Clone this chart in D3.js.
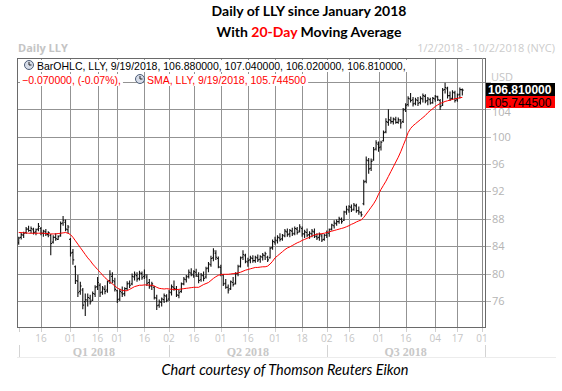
<!DOCTYPE html>
<html>
<head>
<meta charset="utf-8">
<script src="https://cdn.jsdelivr.net/npm/d3@7"></script>
<style>
  body { margin: 0; background: #fff; }
  svg { display: block; }
</style>
</head>
<body>
<svg id="chart" width="562" height="391"></svg>
<script>
// NYSE holidays in the range (used to build the trading-day calendar)
const holidays = ['2018-01-01', '2018-01-15', '2018-02-19', '2018-03-30', '2018-05-28', '2018-07-04', '2018-09-03'];

// x axis ticks
const tickDates = ['2018-01-16', '2018-02-01', '2018-02-16', '2018-03-01', '2018-03-16', '2018-04-02',
    '2018-04-16', '2018-05-01', '2018-05-16', '2018-06-01', '2018-06-18', '2018-07-02',
    '2018-07-16', '2018-08-01', '2018-08-16', '2018-09-04', '2018-09-17', '2018-10-01'];
const tickLabels = ['16', '01', '16', '01', '16', '02', '16', '01', '16', '01', '18', '02', '16', '01', '16', '04', '17', '01'];
const quarterLabels = ['Q1 2018', 'Q2 2018', 'Q3 2018'];
const quarterBounds = ['2018-01-02', '2018-04-02', '2018-07-02', '2018-10-02'];
const priceTicks = [76, 80, 84, 88, 92, 96, 100, 104, 108];

// daily OHLC, 2018-01-02 .. 2018-09-19
const open = [
    84.5, 85.3, 85.6, 86.0, 86.5, 86.3, 86.4, 86.1, 86.5, 86.6,
    85.9, 86.1, 85.7, 85.6, 84.6, 85.3, 85.0, 85.6, 87.4, 87.5,
    86.4, 85.0, 83.1, 81.0, 78.9, 77.4, 77.6, 75.9, 76.0, 76.4,
    76.1, 77.0, 78.1, 78.3, 77.3, 77.7, 77.6, 79.0, 79.6, 78.8,
    77.5, 76.3, 77.2, 77.1, 77.8, 78.6, 78.5, 79.5, 79.7, 79.3,
    80.0, 79.6, 79.5, 78.7, 78.2, 78.0, 76.4, 75.4, 75.8, 76.2,
    76.7, 76.3, 77.2, 78.0, 77.7, 76.8, 77.4, 78.5, 79.1, 79.6,
    80.1, 79.8, 80.2, 79.6, 79.1, 79.7, 79.5, 80.8, 81.3, 82.3,
    83.0, 82.2, 80.9, 79.8, 78.6, 78.0, 77.8, 78.7, 78.6, 80.0,
    81.1, 82.4, 82.6, 81.7, 82.0, 82.2, 81.9, 82.3, 82.1, 82.4,
    82.6, 82.4, 82.3, 83.8, 84.6, 84.8, 85.2, 85.1, 85.5, 86.1,
    85.8, 86.2, 85.9, 86.5, 86.2, 86.6, 85.8, 86.0, 85.7, 85.8,
    86.1, 85.4, 85.3, 85.5, 85.0, 85.6, 85.9, 86.5, 87.0, 87.3,
    87.6, 87.9, 87.8, 89.0, 89.3, 89.7, 89.4, 89.9, 89.2, 88.9,
    90.2, 93.5, 96.5, 95.4, 96.6, 98.2, 98.9, 98.5, 99.4, 100.7,
    102.1, 102.4, 102.2, 102.5, 102.1, 102.3, 102.2, 104.0, 104.7, 105.5,
    105.4, 104.9, 105.3, 105.0, 105.5, 105.9, 105.3, 105.4, 105.0, 105.5,
    105.8, 105.3, 104.6, 106.9, 107.0, 106.0, 105.6, 106.4, 105.4, 106.2,
    106.88];
const high = [
    85.4, 86.0, 86.1, 86.8, 87.0, 86.9, 86.7, 86.6, 87.4, 86.8,
    86.4, 86.5, 86.2, 85.8, 85.6, 85.9, 85.6, 87.6, 88.4, 87.9,
    87.1, 85.2, 83.6, 81.2, 79.8, 78.8, 77.9, 77.1, 77.1, 76.9,
    77.4, 78.3, 79.5, 78.6, 78.2, 78.3, 79.0, 80.5, 80.2, 79.4,
    77.6, 77.8, 78.1, 78.0, 78.9, 79.0, 80.0, 80.3, 80.2, 80.4,
    80.3, 80.6, 79.9, 79.2, 78.8, 78.2, 76.9, 76.2, 76.5, 77.1,
    77.0, 77.6, 78.4, 79.0, 78.2, 77.6, 78.7, 79.5, 79.8, 80.6,
    80.8, 80.5, 80.7, 80.2, 80.1, 80.3, 81.0, 81.7, 82.6, 83.7,
    83.4, 82.5, 81.3, 79.9, 79.2, 78.4, 79.0, 79.5, 80.2, 81.3,
    82.5, 83.4, 82.9, 82.3, 82.6, 82.7, 82.6, 82.8, 82.7, 83.0,
    83.2, 82.6, 83.9, 85.0, 85.4, 85.6, 85.9, 85.8, 86.5, 86.6,
    86.5, 86.7, 86.9, 86.8, 87.2, 86.9, 86.4, 86.6, 86.2, 86.5,
    86.6, 85.9, 86.0, 85.8, 85.8, 86.3, 86.6, 87.3, 87.8, 87.9,
    88.3, 88.2, 89.2, 89.9, 90.0, 90.1, 90.3, 90.2, 89.8, 89.1,
    93.7, 97.1, 96.9, 96.8, 98.5, 99.5, 99.3, 99.4, 100.9, 102.7,
    104.0, 102.9, 102.8, 102.9, 102.8, 102.6, 104.2, 104.9, 105.9, 106.4,
    105.8, 105.7, 105.8, 105.9, 106.3, 106.2, 105.8, 105.7, 105.8, 106.1,
    106.0, 105.5, 107.1, 107.9, 107.3, 106.6, 106.8, 106.7, 106.3, 107.2,
    107.04];
const low = [
    84.2, 85.0, 85.2, 85.8, 86.1, 85.9, 85.7, 85.6, 86.2, 85.6,
    85.4, 85.5, 85.3, 82.7, 84.4, 84.8, 84.9, 85.4, 87.0, 86.2,
    85.9, 82.5, 81.3, 78.5, 76.6, 76.9, 74.8, 73.8, 75.2, 75.5,
    76.0, 76.6, 77.6, 76.6, 76.9, 77.0, 77.2, 78.5, 78.6, 77.4,
    75.7, 76.0, 76.6, 76.7, 77.6, 77.9, 78.3, 79.0, 78.8, 79.0,
    79.1, 79.2, 78.2, 77.8, 77.6, 76.2, 74.7, 75.0, 75.2, 75.7,
    75.8, 76.0, 76.8, 77.5, 76.6, 76.4, 77.2, 78.3, 78.7, 79.3,
    79.6, 79.4, 79.5, 78.6, 78.8, 78.9, 79.3, 80.2, 81.0, 81.8,
    82.0, 80.8, 79.6, 78.2, 77.8, 77.1, 77.6, 78.1, 78.4, 79.6,
    80.9, 82.0, 81.5, 81.0, 81.5, 81.6, 81.6, 81.7, 81.6, 81.9,
    82.0, 81.7, 82.2, 83.5, 84.2, 84.4, 84.7, 84.8, 85.3, 85.4,
    85.3, 85.5, 85.6, 85.7, 86.0, 85.4, 85.2, 85.3, 85.1, 85.3,
    85.2, 84.9, 84.8, 84.6, 84.8, 85.2, 85.4, 86.3, 86.6, 87.0,
    87.3, 87.3, 87.7, 88.6, 88.9, 89.0, 89.2, 88.9, 88.6, 88.3,
    90.0, 93.2, 94.6, 95.0, 96.5, 98.0, 97.8, 98.0, 99.3, 100.5,
    101.6, 101.9, 101.8, 101.9, 101.9, 101.2, 102.0, 103.6, 104.4, 105.0,
    104.4, 104.6, 104.5, 104.7, 105.0, 104.9, 104.6, 104.7, 104.8, 105.1,
    105.2, 103.9, 104.5, 106.3, 105.6, 105.2, 105.4, 105.0, 105.1, 105.6,
    106.02];
const close = [
    85.2, 85.7, 85.9, 86.5, 86.3, 86.6, 86.0, 86.4, 86.9, 85.9,
    86.2, 85.8, 86.0, 84.4, 85.3, 85.1, 85.4, 87.3, 87.8, 86.5,
    86.8, 83.0, 82.0, 79.0, 77.2, 78.2, 75.4, 76.2, 76.5, 75.9,
    77.1, 78.0, 78.7, 77.2, 77.9, 77.4, 78.8, 79.9, 79.0, 77.7,
    76.2, 77.4, 77.0, 77.8, 78.5, 78.3, 79.6, 79.9, 79.2, 80.1,
    79.4, 79.8, 78.6, 78.2, 78.5, 76.5, 75.3, 75.9, 76.3, 76.8,
    76.1, 77.3, 78.1, 77.8, 76.9, 77.2, 78.5, 79.2, 79.5, 80.2,
    79.9, 80.3, 79.8, 79.0, 79.8, 79.3, 80.7, 81.4, 82.2, 83.3,
    82.4, 81.0, 79.9, 78.5, 78.0, 77.6, 78.8, 78.4, 80.0, 81.0,
    82.3, 82.8, 81.8, 81.9, 82.3, 81.9, 82.4, 82.0, 82.5, 82.7,
    82.9, 82.0, 83.7, 84.7, 84.9, 85.3, 85.0, 85.6, 86.2, 85.7,
    86.3, 85.8, 86.6, 86.0, 86.8, 85.8, 86.1, 85.6, 85.9, 86.2,
    85.5, 85.2, 85.7, 84.9, 85.6, 86.0, 86.4, 87.1, 87.4, 87.6,
    88.0, 87.6, 89.0, 89.4, 89.8, 89.3, 90.0, 89.2, 89.0, 88.6,
    93.4, 96.6, 95.3, 96.4, 98.1, 99.1, 98.4, 99.2, 100.6, 102.2,
    102.5, 102.2, 102.6, 102.1, 102.5, 102.0, 103.9, 104.6, 105.6, 105.3,
    104.8, 105.4, 104.9, 105.6, 106.0, 105.2, 105.5, 104.9, 105.6, 105.9,
    105.4, 104.4, 106.8, 107.2, 106.0, 105.5, 106.5, 105.3, 106.1, 106.88,
    106.81];
// 20-day simple moving average
const sma = [
    86.0, 86.0, 85.95, 85.95, 85.9, 85.9, 85.9, 85.9, 85.9, 85.9,
    85.9, 85.85, 85.85, 85.8, 85.8, 85.8, 85.85, 85.9, 85.95, 86.0,
    85.9, 85.7, 85.3, 84.8, 84.3, 83.8, 83.3, 82.8, 82.3, 81.9,
    81.4, 81.0, 80.6, 80.2, 79.8, 79.4, 79.1, 78.8, 78.5, 78.2,
    77.9, 77.7, 77.55, 77.5, 77.5, 77.7, 77.9, 78.1, 78.2, 78.3,
    78.3, 78.35, 78.35, 78.3, 78.3, 78.2, 78.0, 77.85, 77.8, 77.75,
    77.8, 77.75, 77.7, 77.7, 77.65, 77.7, 77.75, 77.8, 77.85, 77.9,
    77.95, 78.0, 78.0, 78.0, 78.2, 78.4, 78.55, 78.7, 79.0, 79.3,
    79.55, 79.75, 79.85, 79.9, 79.9, 79.9, 79.95, 80.0, 80.05, 80.1,
    80.2, 80.35, 80.5, 80.6, 80.7, 80.8, 80.9, 80.9, 80.95, 81.0,
    81.0, 81.1, 81.4, 81.8, 82.3, 82.6, 82.9, 83.2, 83.5, 83.75,
    83.9, 84.1, 84.3, 84.5, 84.65, 84.85, 85.0, 85.15, 85.3, 85.5,
    85.65, 85.75, 85.8, 85.85, 85.9, 86.0, 86.1, 86.2, 86.3, 86.4,
    86.5, 86.6, 86.7, 86.85, 87.0, 87.2, 87.35, 87.55, 87.7, 87.85,
    88.2, 88.7, 89.2, 89.7, 90.2, 90.8, 91.6, 92.3, 92.9, 93.5,
    94.2, 94.9, 95.6, 96.3, 97.0, 97.8, 98.7, 99.6, 100.6, 101.2,
    101.6, 101.9, 102.2, 102.5, 102.8, 103.1, 103.5, 103.8, 104.1, 104.4,
    104.65, 104.85, 105.0, 105.15, 105.25, 105.35, 105.45, 105.55, 105.6, 105.7,
    105.7445];

// ---------------------------------------------------------------
const svg = d3.select('#chart');
const plot = { left: 17, right: 485, top: 58, bottom: 327 };
const fmt = d3.timeFormat('%Y-%m-%d');

// trading-day calendar so the x axis skips weekends and holidays
const dates = d3.timeDays(new Date(2018, 0, 2), new Date(2018, 9, 3))
    .filter(d => d.getDay() !== 0 && d.getDay() !== 6 && !holidays.includes(fmt(d)))
    .map(fmt);
const idx = s => dates.indexOf(s);

const x = d3.scaleLinear().domain([-0.7, 189.2]).range([plot.left, plot.right]);
const y = d3.scaleLinear().domain([72.2, 111.5]).range([plot.bottom, plot.top]);

// titles
svg.append('text').attr('x', 309).attr('y', 16).attr('text-anchor', 'middle')
    .style('font', 'bold 14px Lato').text('Daily of LLY since January 2018');
const t2 = svg.append('text').attr('x', 309).attr('y', 37).attr('text-anchor', 'middle')
    .style('font', 'bold 14px Lato');
t2.append('tspan').text('With ');
t2.append('tspan').attr('fill', '#ff0000').text('20-Day');
t2.append('tspan').text(' Moving Average');

svg.append('text').attr('x', 18).attr('y', 52).attr('fill', '#c4c4c4')
    .style('font', 'bold 11px "Open Sans"').text('Daily LLY');
svg.append('text').attr('x', 555).attr('y', 52).attr('text-anchor', 'end').attr('fill', '#cccccc')
    .style('font', '11px "Open Sans"').text('1/2/2018 - 10/2/2018 (NYC)');

// grid
const grid = svg.append('g').attr('stroke', '#939393').attr('stroke-width', 1).attr('shape-rendering', 'crispEdges');
grid.selectAll('.hg').data(priceTicks).enter().append('line')
    .attr('x1', plot.left).attr('x2', plot.right)
    .attr('y1', d => Math.round(y(d)) + 0.5).attr('y2', d => Math.round(y(d)) + 0.5);
grid.selectAll('.vg').data(tickDates.slice(0, -1)).enter().append('line')
    .attr('x1', d => Math.round(x(idx(d))) + 0.5).attr('x2', d => Math.round(x(idx(d))) + 0.5)
    .attr('y1', plot.top).attr('y2', plot.bottom);

// x axis tick stubs and labels
const xa = svg.append('g');
xa.selectAll('line').data(['2018-01-02'].concat(tickDates)).enter().append('line')
    .attr('x1', d => Math.round(x(idx(d))) + 0.5).attr('x2', d => Math.round(x(idx(d))) + 0.5)
    .attr('y1', plot.bottom).attr('y2', plot.bottom + 5)
    .attr('stroke', '#d0d0d0').attr('shape-rendering', 'crispEdges');
xa.selectAll('text').data(tickDates).enter().append('text')
    .attr('x', d => x(idx(d))).attr('y', 341.5).attr('text-anchor', 'middle')
    .attr('fill', '#c6c6c6').style('font', '10px "Open Sans"')
    .text((d, i) => tickLabels[i]);

// quarters
const qa = svg.append('g');
qa.selectAll('line').data(quarterBounds).enter().append('line')
    .attr('x1', d => Math.round(x(idx(d))) + 0.5).attr('x2', d => Math.round(x(idx(d))) + 0.5)
    .attr('y1', 345).attr('y2', 357).attr('stroke', '#d4d4d4').attr('shape-rendering', 'crispEdges');
qa.selectAll('text').data(quarterLabels).enter().append('text')
    .attr('x', (d, i) => (x(idx(quarterBounds[i])) + x(idx(quarterBounds[i + 1]))) / 2)
    .attr('y', 355.5).attr('text-anchor', 'middle').attr('fill', '#c8c8c8')
    .style('font', 'bold 12px "Liberation Serif"').text(d => d);
svg.append('line').attr('x1', plot.left).attr('x2', 556).attr('y1', 357.5).attr('y2', 357.5)
    .attr('stroke', '#ececec');

// y axis on the right
const ya = svg.append('g');
ya.selectAll('line').data(priceTicks).enter().append('line')
    .attr('x1', plot.right).attr('x2', plot.right + 6)
    .attr('y1', d => Math.round(y(d)) + 0.5).attr('y2', d => Math.round(y(d)) + 0.5)
    .attr('stroke', '#b8b8b8').attr('shape-rendering', 'crispEdges');
ya.selectAll('text').data(priceTicks.filter(d => d < 108)).enter().append('text')
    .attr('x', plot.right + 7).attr('y', d => y(d) + (d === 104 ? 6.5 : 4))
    .attr('fill', '#b4b4b4').style('font', '11px "Open Sans"').text(d => d);
ya.append('text').attr('x', plot.right + 6).attr('y', 81).attr('fill', '#c4c4c4')
    .style('font', '11px "Open Sans"').text('USD');

// OHLC bars
const bars = svg.append('g').attr('stroke', '#111').attr('stroke-width', 1.1).attr('fill', 'none');
bars.selectAll('path').data(close).enter().append('path')
    .attr('d', (c, i) => {
        const cx = x(i);
        return `M${cx},${y(high[i])}V${y(low[i])}M${cx - 1.3},${y(open[i])}H${cx}M${cx},${y(c)}H${cx + 1.3}`;
    });

// SMA
svg.append('path').datum(sma)
    .attr('fill', 'none').attr('stroke', '#ff0000').attr('stroke-width', 1)
    .attr('d', d3.line().x((d, i) => x(i)).y(d => y(d)));

// plot frame
svg.append('rect').attr('x', plot.left + 0.5).attr('y', plot.top + 0.5)
    .attr('width', plot.right - plot.left).attr('height', plot.bottom - plot.top)
    .attr('fill', 'none').attr('stroke', '#6a6a6a').attr('shape-rendering', 'crispEdges');
svg.append('line').attr('x1', plot.right - 2.5).attr('x2', plot.right - 2.5)
    .attr('y1', plot.top).attr('y2', plot.bottom).attr('stroke', '#8a8a8a').attr('shape-rendering', 'crispEdges');

// legend
const last = close.length - 1;
const f6 = d3.format('.6f');
const chg = close[last] - close[last - 1];
const lastDate = d3.timeFormat('%-m/%-d/%Y')(d3.timeParse('%Y-%m-%d')(dates[last]));
const leg = svg.append('g').style('font', '10.5px "Liberation Sans"');
function clock(g, cx, cy) {
    g.append('circle').attr('cx', cx).attr('cy', cy).attr('r', 4.5)
        .attr('fill', '#d6dce8').attr('stroke', '#4d5d78').attr('stroke-width', 1);
    g.append('path').attr('d', `M${cx},${cy - 3}V${cy}H${cx + 2.5}`)
        .attr('stroke', '#222').attr('fill', 'none').attr('stroke-width', 1);
}
const l1 = leg.append('text').attr('x', 37).attr('y', 70).attr('fill', '#000')
    .text(`BarOHLC, LLY, ${lastDate}, ${f6(open[last])}, ${f6(high[last])}, ${f6(low[last])}, ${f6(close[last])},`);
const l2a = leg.append('text').attr('x', 22).attr('y', 84).attr('fill', '#ff0000')
    .text(`${f6(chg)}, (${(chg / close[last - 1] * 100).toFixed(2)}%),`);
const l2b = leg.append('text').attr('x', 147).attr('y', 84).attr('fill', '#ff0000')
    .text(`SMA, LLY, ${lastDate}, ${f6(sma[last])}`);
[l1, l2a, l2b].forEach(t => {
    const b = t.node().getBBox();
    leg.insert('rect', 'text').attr('x', b.x - 2).attr('y', b.y).attr('width', b.width + 4).attr('height', b.height)
        .attr('fill', '#fff');
});
clock(leg, 29, 65);
clock(leg, 140, 79);

// last value boxes
const by = Math.round(y(close[last]) - 7);
svg.append('rect').attr('x', 486).attr('y', by).attr('width', 69).attr('height', 13).attr('fill', '#000');
svg.append('text').attr('x', 488).attr('y', by + 11).attr('fill', '#fff')
    .style('font', 'bold 12px "Liberation Sans"').text(f6(close[last]));
svg.append('rect').attr('x', 486).attr('y', by + 13).attr('width', 69).attr('height', 12).attr('fill', '#ff0000');
svg.append('text').attr('x', 488).attr('y', by + 23.5).attr('fill', '#000')
    .style('font', '12px "Liberation Sans"').text(f6(sma[last]));

// footer
svg.append('text').attr('x', 285).attr('y', 375).attr('text-anchor', 'middle')
    .style('font', 'italic 14.5px Lato').text('Chart courtesy of Thomson Reuters Eikon');
</script>
</body>
</html>
